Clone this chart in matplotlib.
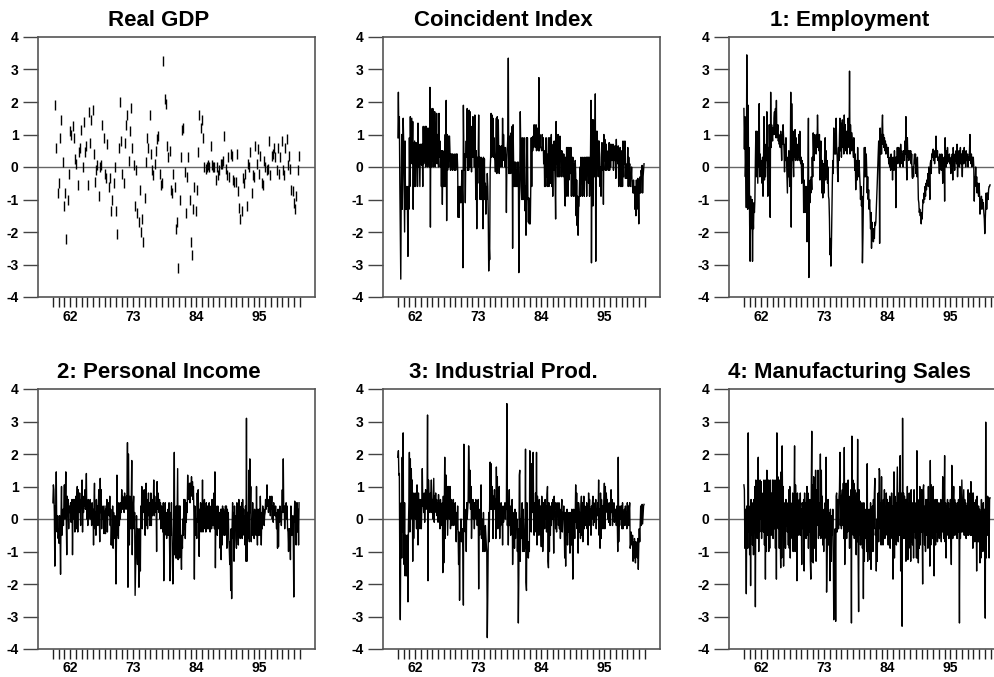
import numpy as np
import matplotlib
matplotlib.use('Agg')
import matplotlib.pyplot as plt

plt.rcParams['font.family'] = ['Liberation Sans', 'DejaVu Sans']
plt.rcParams['font.weight'] = 'bold'

# monthly series start in Jan 1959
start_year = 1959

# quarterly real GDP (standardised growth)
gdp_first, gdp_last = 1959.4, 2001.9
gdp = [1.9, 0.6, -0.8, -0.5, 0.9, 1.45, 0.15, -1.2, -0.8, -2.2,
       -1.0, -0.2, 1.1, 1.0, 1.25, 0.9, 0.25, 0.1, -0.55, 0.45,
       0.6, 1.15, 0.0, 1.4, 0.45, 0.65, -0.55, 1.7, 0.75, 1.45,
       1.75, 0.4, -0.45, -0.1, 0.05, -0.9, 0.0, 0.05, 1.3, 0.9,
       -0.2, -0.35, 0.7, -0.6, -0.35, -1.35, -1.0, -0.5, 0.0, -1.35,
       -2.05, 0.6, 2.0, 0.8, -0.2, -0.5, 0.75, 1.3, 1.6, 0.2,
       1.1, 1.8, 0.6, 0.05, -1.2, -0.1, -1.4, -1.7, -0.7, -2.0,
       -1.6, -2.3, -0.95, 0.15, 0.9, 0.6, 1.6, 0.4, -0.1, -0.25,
       0.1, 0.5, 0.85, 0.95, -0.2, -0.55, -0.5, 3.25, 2.1, 1.95,
       0.65, 0.3, 0.5, -0.7, -0.8, -0.2, -0.6, -1.9, -1.7, -3.1,
       -1.0, 0.3, 1.15, 1.2, -0.15, -1.4, -0.3, 0.3, -1.0, -2.3,
       -2.7, -1.3, -0.6, -1.35, -0.7, 0.45, 1.6, 1.2, 1.45, 0.9,
       0.0, -0.05, 0.0, 0.05, 0.0, 0.65, 0.05, 0.0, 0.0, -0.4,
       0.0, -0.25, -0.1, 0.1, 0.1, 0.2, 0.95, -0.05, -0.25, 0.3,
       -0.3, 0.4, 0.35, -0.4, -0.45, -0.45, 0.4, -0.75, -1.25, -1.6,
       -1.35, -0.35, -0.5, -0.2, -1.2, 0.1, 0.0, 0.45, -0.8, -0.25,
       -0.3, 0.65, 0.1, 0.55, -0.2, 0.35, -0.5, -0.55, 0.2, 0.0,
       -0.1, -0.05, 0.8, -0.25, 0.35, 0.4, 0.6, 0.3, -0.1, 0.6,
       -0.2, 0.3, 0.8, -0.1, -0.25, 0.6, 0.85, 0.05, 0.35, -0.05,
       -0.7, -0.75, -1.1, -1.3, -0.9, -0.1, 0.35]

# monthly series, one row per year
coincident = [
    [0.9, 2.3, 0.9, 1.55, -0.5, -2.0, -3.45, -0.6, 1.0, -1.3, 0.2, 1.5],
    [0.8, -0.6, -2.0, 0.8, -1.3, -0.6, -1.3, -0.6, -1.3, -2.75, -0.6, -1.3],
    [0.9, -0.6, 1.55, 0.1, 0.8, 1.5, 0.1, 1.4, -1.3, 0.75, -0.6, 0.8],
    [0.1, -0.6, 0.75, 0.0, 0.7, -0.6, 1.35, 0.0, 0.7, 0.1, -0.6, 0.7],
    [0.1, 0.7, 0.05, 0.7, -0.6, 1.25, 0.1, 1.2, 0.2, 1.25, 0.0, 1.25],
    [0.1, 1.2, 0.0, 0.8, 0.1, 1.2, 0.0, 2.45, -1.85, 1.8, 0.0, 1.1],
    [0.2, 1.8, 0.0, 1.15, 0.3, 1.7, 0.0, 1.15, 0.6, 1.65, 0.1, 1.0],
    [0.5, 0.0, 1.65, 0.3, 0.8, 0.0, 0.5, -0.6, 0.5, -1.15, 0.5, -0.6],
    [0.2, -0.6, 0.0, 1.0, -0.6, 2.05, -1.65, 1.0, -0.1, 0.95, 0.0, 0.95],
    [0.95, 0.4, -0.1, 0.4, 0.0, 0.4, -0.1, 0.4, 0.0, 0.35, -0.1, 0.4],
    [0.35, -0.1, 0.4, 0.0, 0.4, 0.0, -1.55, -0.6, -1.55, -0.6, -1.1, -0.6],
    [-1.1, -0.6, -0.1, -0.9, -3.1, 1.9, 0.4, -0.1, 0.4, -1.1, 0.4, 0.8],
    [0.3, 1.8, -0.1, 1.3, -0.1, 1.75, 0.0, 1.7, 0.0, 1.25, -0.15, 0.9],
    [0.3, 1.55, 0.3, 1.0, 0.0, 1.6, 0.3, -1.0, 0.5, -1.9, 0.3, -0.5],
    [0.3, 1.6, 0.0, 0.3, -1.0, 0.25, 0.3, -1.0, 0.25, -0.5, -1.9, 0.3],
    [-0.55, 0.25, -1.0, -0.5, -1.45, -0.6, -1.0, -0.2, -0.6, -1.45, -3.2, -2.4],
    [-2.85, -0.1, 0.3, 1.65, 0.3, 1.6, 0.35, 1.5, 0.3, 0.9, 0.3, 0.2],
    [-0.15, 0.5, 1.5, -0.2, 1.55, 0.6, 1.45, 0.4, -0.2, 0.65, 0.0, 0.6],
    [0.6, 0.65, 0.0, 1.5, 0.2, 1.0, 0.4, 0.6, 0.0, 0.6, 0.2, -1.4],
    [0.2, 0.6, 0.95, 3.35, -0.2, 0.95, -0.2, 0.9, -0.2, 1.05, 0.4, 1.25],
    [-2.5, 1.3, 0.2, -0.6, 0.15, -0.6, 0.15, -0.6, -0.1, -0.6, 0.15, -0.6],
    [0.15, -3.25, -1.35, -0.3, 1.7, 0.4, -0.6, -1.0, 0.9, -1.0, 0.3, -1.0],
    [0.9, 0.05, -1.35, -0.6, -2.1, 0.9, -1.0, 0.9, -1.0, -1.7, -0.95, -1.75],
    [-1.0, -1.75, -0.6, 0.9, -0.6, 0.9, 0.5, 0.95, 0.6, 1.3, 0.8, 0.9],
    [0.6, 1.3, 0.5, 1.0, 0.75, 1.2, 0.5, 2.75, 0.5, 1.0, 0.6, 0.6],
    [0.6, 0.5, 1.0, 0.6, 0.9, 0.1, 0.5, -0.6, 0.4, -0.6, 0.9, -0.3],
    [0.4, -0.6, 0.1, 0.9, -0.6, 0.0, 0.9, -0.5, 0.1, 1.0, -0.6, 0.4],
    [-0.9, 0.7, -0.1, 0.8, 0.2, -0.5, -1.6, 1.4, 0.1, 0.7, -0.3, 1.0],
    [-0.3, 0.9, -0.3, 0.95, 0.2, 0.5, -0.3, 0.5, 0.2, 0.4, -0.3, 0.4],
    [0.1, -0.9, -1.2, 0.3, -0.9, 0.6, -0.2, 0.6, -0.9, 0.6, -0.4, 0.3],
    [0.6, -0.2, 0.6, -0.9, 0.3, -0.2, 0.3, -0.9, 0.1, -0.4, -0.9, 0.2],
    [-0.2, -1.5, -0.4, -1.8, -0.9, -2.1, -1.2, -1.2, -0.5, 0.0, -0.9, 0.3],
    [-0.3, 0.0, -0.9, 0.3, -0.6, 0.0, -0.9, 0.3, 0.0, -0.4, 0.3, -0.9],
    [0.3, -0.2, 0.3, -0.5, 0.3, -0.9, 0.0, 0.4, 2.05, -2.95, 0.3, 1.45],
    [-1.2, 1.45, -0.3, 0.6, -0.3, 2.25, -2.9, 1.1, -0.3, 1.1, 0.3, 0.8],
    [-0.3, 0.8, 0.4, -0.6, 0.0, -0.9, 0.3, 0.75, -0.1, 0.7, -1.15, 1.0],
    [0.2, 0.85, -0.1, 0.2, 0.7, -0.1, 0.45, 0.2, 0.5, -0.1, 0.75, -0.1],
    [0.7, 0.0, 0.7, 0.2, 0.65, 0.2, 0.7, -0.1, 0.5, 0.2, 0.65, 0.3],
    [-0.35, 0.85, 0.2, 0.6, 0.1, 0.65, -0.6, 0.4, 0.0, 0.6, -0.6, 0.5],
    [-0.6, 0.3, -0.6, 0.8, -0.3, 0.75, 0.1, 0.8, -0.35, 0.1, -0.2, -0.35],
    [0.0, 0.6, -0.6, 0.3, -0.35, 0.1, -0.6, -0.2, -0.35, 0.0, -0.6, -0.6],
    [-0.8, -0.4, -0.8, -0.6, -1.3, -0.6, -1.5, -0.4, -1.3, -0.8, -0.35, -0.8],
    [-1.75, -0.4, -0.8, -0.3, -0.8, -0.1, -0.35, 0.05, -0.8, -0.3, -0.1, 0.1],
]

employment = [
    [1.8, 0.55, 1.55, -0.3, 0.3, -1.25, 3.45, 0.4, -1.3, 1.9, -1.0, 0.6],
    [-1.75, -2.9, -0.9, -1.9, -1.5, -1.0, -2.9, -1.4, -1.9, -1.1, -1.4, -1.0],
    [0.2, 1.1, -0.3, 1.1, 0.3, -0.5, 1.1, 0.0, 1.95, -0.3, 0.4, 0.0],
    [-0.3, 0.2, -0.5, 0.3, -0.9, 0.1, 1.55, -0.4, 0.7, -0.3, 0.4, 0.2],
    [1.7, 0.3, -0.9, 0.6, 0.0, 1.3, 0.5, -1.55, 2.3, 0.6, 1.3, 1.0],
    [0.8, 1.2, 1.0, 1.5, 1.7, 1.0, 1.8, 0.9, 2.05, 0.9, 1.0, 1.3],
    [0.8, 1.0, 0.7, 0.9, 0.6, 1.1, 0.7, 0.2, 1.0, 0.7, 1.3, 0.9],
    [0.5, -0.15, 0.7, 0.2, 0.9, 0.3, -0.3, -0.8, 0.3, -0.3, 0.5, 0.0],
    [-0.6, 0.1, 2.3, -1.85, 1.95, 0.2, 1.1, 0.2, -0.3, 1.1, 0.3, 1.15],
    [0.2, 0.9, 0.3, 0.6, 0.2, 0.7, 0.3, 1.0, 0.2, 1.1, 0.2, 0.1],
    [0.3, -0.5, 0.2, -0.3, 0.1, -1.4, -0.4, -0.7, -1.4, -0.6, -1.2, -0.6],
    [-2.3, -1.2, -0.3, 1.5, -3.4, -0.5, -1.1, -0.4, -0.8, -0.3, -0.7, 0.3],
    [-0.3, 1.05, 0.5, 0.2, 1.0, 0.6, 0.9, 0.4, 1.0, 0.6, 1.6, 0.9],
    [0.9, 0.5, 1.0, -0.4, 0.4, 0.8, 0.2, -0.8, 0.2, -0.95, 0.1, -0.3],
    [-0.8, 0.4, 0.9, -0.4, 0.5, -0.3, 0.2, -0.5, 0.0, -0.9, -1.0, -1.6],
    [-2.7, -2.2, -3.05, -2.5, -1.4, -0.5, 0.2, -0.2, 1.2, 0.6, 0.4, 1.0],
    [0.4, 1.5, 0.6, 0.35, -0.2, -0.45, 0.6, 0.2, 1.0, 1.5, 0.5, 1.35],
    [0.3, 0.8, 1.45, 0.6, 1.2, 0.4, 1.6, 0.7, 1.3, 0.5, 0.9, 1.1],
    [0.4, 1.0, 1.5, 1.3, 0.6, 2.95, 0.4, 1.3, 0.9, 0.5, 1.05, 0.8],
    [0.6, 0.3, 0.9, 0.5, -0.1, 0.4, -0.7, 0.2, 0.0, -0.4, 0.6, 0.0],
    [-0.3, 0.2, -0.2, -0.5, -1.0, -0.6, -1.2, -0.9, -2.95, -2.2, -1.0, -0.3],
    [0.6, -0.3, 0.6, -0.3, 0.4, -0.1, -0.8, -0.3, -1.0, -0.7, -1.3, -1.0],
    [-1.4, -1.9, -1.4, -2.5, -1.7, -2.2, -1.9, -2.3, -1.9, -2.2, -1.7, -1.8],
    [-1.7, -1.3, -0.9, -0.5, 0.0, 0.4, 0.8, 0.5, -2.35, 1.2, 0.4, 1.0],
    [0.4, 1.2, 1.6, 0.7, 1.0, 0.6, 0.9, 0.5, 0.8, 0.4, 0.7, 0.6],
    [0.5, 0.3, 0.6, 0.1, 0.2, 0.0, 0.3, -0.1, 0.4, 0.1, 0.2, -0.4],
    [0.3, 0.2, -0.1, 0.5, 0.0, 0.3, -1.25, 0.3, 0.2, 0.6, 0.1, 0.4],
    [0.6, 0.2, 0.5, 0.0, 0.7, 0.2, 0.5, 0.1, 0.4, 0.0, 0.5, 0.3],
    [0.2, 0.8, 0.4, 1.55, 0.1, -0.4, 0.9, 0.3, 0.5, 0.2, 0.4, 0.5],
    [0.3, 0.5, 0.1, 0.4, -0.3, -0.35, 0.0, -0.3, 0.2, 0.4, 0.1, 0.4],
    [-0.2, 0.2, -0.3, 0.3, -0.2, -1.0, -1.1, -1.4, -1.3, -1.5, -1.4, -1.75],
    [-1.4, -1.6, -1.2, -1.0, -1.1, -0.8, -1.0, -0.6, -0.9, -0.5, -0.7, -0.4],
    [-0.5, -0.2, -0.6, 0.0, -0.3, -1.0, 0.1, 0.2, -0.2, 0.4, 0.3, 0.5],
    [0.55, 0.2, 0.5, 0.1, 0.4, 0.3, 0.95, 0.4, 0.3, 0.5, 0.2, 0.3],
    [0.1, -0.2, 0.4, 0.2, 0.3, -0.1, 0.4, 0.3, -0.5, 0.2, 0.0, 0.3],
    [-1.05, 0.9, 0.3, 0.0, 0.5, 0.1, 0.6, 0.2, 0.3, 0.15, 0.4, 0.1],
    [0.2, -0.2, 0.3, 0.1, 0.4, -0.4, 0.6, 0.2, 0.3, -0.1, 0.4, 0.2],
    [0.5, 0.1, 0.7, -0.3, 0.3, 0.2, 0.5, 0.0, 0.3, 0.6, 0.1, 0.4],
    [0.2, -0.3, 0.5, 0.3, 0.1, 0.6, 0.2, 0.4, 0.0, 0.5, 0.2, 0.3],
    [0.4, 0.0, 0.3, 0.2, 0.5, 1.0, 0.3, 0.1, 0.4, 0.0, 0.3, 0.2],
    [0.3, 0.0, -1.05, -0.3, -0.5, 0.0, -0.6, -0.3, -0.8, -0.5, -0.6, -0.9],
    [-0.5, -0.8, -1.45, -1.0, -1.2, -0.9, -1.3, -1.0, -1.2, -1.1, -1.4, -1.6],
    [-2.05, -1.6, -1.2, -0.8, -1.3, -0.9, -0.8, -1.0, -0.7, -0.6, -0.6, -0.55],
]

personal_income = [
    [0.5, 1.05, 0.9, 0.2, -1.45, 0.4, 0.0, 1.45, -0.3, -0.4, 0.1, -0.6],
    [-0.3, -0.75, 0.1, -0.5, -1.7, 0.1, 1.0, -0.5, 0.0, 0.3, -0.2, 0.5],
    [1.05, 0.0, 0.6, 1.45, -0.1, -1.1, 0.7, 0.3, 0.6, -0.3, 0.4, 0.2],
    [0.3, 0.5, -0.1, 0.4, 0.6, -1.1, 0.2, 0.6, 0.0, 0.6, -0.4, 0.4],
    [0.7, -0.3, 0.6, 1.0, -0.4, 0.9, 0.3, 0.2, 0.8, 0.4, -0.2, 0.6],
    [0.4, 1.2, -0.4, 0.6, 0.2, 0.7, 0.4, 0.9, 0.3, 0.6, 1.4, 0.0],
    [0.3, -0.2, 0.6, 0.0, 0.4, 0.2, 0.6, 0.0, 0.3, -0.2, 0.5, 0.1],
    [0.3, -0.8, 0.4, 1.1, -0.3, 0.2, -0.5, 0.6, 0.1, 0.4, -0.2, 0.3],
    [0.9, 0.2, -0.7, 1.25, 0.2, 0.9, -0.3, 0.3, 0.0, 0.4, 0.2, -0.45],
    [0.0, 0.4, -0.45, 0.3, 0.1, 0.6, -0.4, 0.3, 0.2, 0.5, 0.1, 0.7],
    [-0.2, 0.3, -0.8, -0.3, -0.8, 0.4, -0.9, 0.2, -0.6, -0.3, 0.1, -0.6],
    [-2.0, -0.6, 1.35, -0.5, 0.2, -0.6, 0.5, -0.2, 0.3, 0.0, 0.5, 0.2],
    [0.9, 0.3, 0.7, 0.4, 0.5, 0.2, 0.8, 0.4, 0.6, 0.3, 0.7, 0.4],
    [2.35, -2.1, 2.0, 0.4, -0.8, 0.7, 0.3, -0.3, 0.6, 1.8, -1.1, 0.4],
    [0.4, 0.7, -0.3, 0.2, -2.35, -1.5, -0.5, 0.1, -0.9, -1.4, -0.3, -1.1],
    [-2.1, -1.6, -0.3, -1.6, 0.4, -0.2, 1.0, -0.3, 0.8, 0.2, 0.6, 0.9],
    [0.6, -0.5, 0.5, 1.1, -0.2, 0.6, -0.3, 0.3, 0.8, 0.1, 0.5, -0.2],
    [0.2, 0.8, -0.2, 0.5, 0.1, 0.6, 0.3, 1.2, 0.1, 0.7, 0.2, 0.5],
    [0.4, -1.0, 1.15, 0.3, 0.8, 0.5, 0.2, 0.6, 0.0, 0.5, -0.3, 0.4],
    [-0.1, 0.3, -0.4, 0.5, -1.9, 0.2, -0.5, 0.5, -0.3, 0.2, -0.6, 0.1],
    [-0.5, 0.3, -0.5, 0.5, -0.6, -1.9, 0.2, -0.5, 0.5, -0.3, -1.3, -2.0],
    [-1.3, 0.2, 2.05, -1.1, 0.3, -1.2, 0.4, -1.2, 0.3, 1.55, -1.25, -0.4],
    [0.4, -1.2, 0.4, -0.5, -0.9, -1.55, -0.5, -0.9, 0.0, -0.5, 0.6, -0.3],
    [0.6, -0.6, 0.3, -0.1, 0.5, 0.2, 1.35, 0.6, 1.0, 0.7, 1.1, 0.5],
    [1.1, 0.8, 1.3, 0.7, 1.15, 0.6, 1.0, 0.2, -1.85, 0.4, 0.2, -0.5],
    [0.0, -0.6, 0.8, -0.1, 0.9, -0.3, -1.15, 0.3, -0.3, 0.5, -0.4, 0.2],
    [-0.3, 1.2, -0.4, 0.5, -0.3, 0.6, -0.2, 0.3, -0.4, 0.5, -0.2, 0.4],
    [-0.3, 0.3, -0.3, 0.5, -0.2, -0.4, 0.2, 0.4, -0.3, 0.6, -0.2, 0.3],
    [-0.2, 0.8, -0.3, 1.45, -1.5, 0.4, -0.2, 0.3, -0.5, 0.4, 0.0, -0.3],
    [-0.2, 0.2, -0.9, 0.3, -1.25, 0.3, -0.8, 0.4, -0.3, 0.3, -0.5, 0.2],
    [-0.5, 0.4, -0.4, 0.4, -0.9, 0.3, -0.4, 0.2, -0.6, -0.9, -1.4, -0.7],
    [-2.2, -0.3, -2.45, -0.2, 0.5, -0.6, 0.2, -1.3, 0.4, -0.2, 0.1, -0.6],
    [-0.9, 0.5, -0.4, 0.2, -0.8, 0.6, -0.3, 0.4, -0.6, 0.1, -0.2, 0.5],
    [-0.6, 0.6, -0.2, 0.3, -0.5, 0.1, -0.8, 0.4, -1.3, 3.1, -1.3, 0.2],
    [0.2, -0.6, 1.5, -0.7, 1.85, 0.2, 1.0, -0.7, 0.0, -0.5, 0.5, -0.4],
    [0.2, -0.6, 0.3, -0.3, 0.1, -0.5, 1.0, -0.3, -0.8, 0.3, -0.5, 0.1],
    [0.3, -0.5, 0.7, 0.0, -0.8, 0.2, -0.3, 0.4, 0.0, 0.3, -0.2, 0.1],
    [0.2, 0.6, 0.3, 0.5, 1.05, 0.4, 0.6, 0.2, 0.5, 0.3, 0.7, 0.1],
    [0.6, 0.3, 0.7, 0.0, 0.4, -0.1, 0.5, 0.2, 0.3, 0.1, 0.4, 0.0],
    [-0.3, 0.2, -0.9, 0.3, -0.85, 0.2, -0.1, 0.4, 0.0, 0.2, -0.2, 0.3],
    [0.9, 0.2, 1.85, 0.3, 0.4, -0.3, 0.2, 0.1, 0.5, 0.0, 0.4, -0.3],
    [-0.4, -1.0, -0.3, -0.5, -0.3, -1.25, 0.4, -0.2, -0.5, -0.3, 0.1, -0.6],
    [-2.4, 0.0, 0.55, -0.1, 0.5, -0.8, 0.2, 0.5, -0.4, 0.3, -0.8, 0.5],
]

industrial_prod = [
    [1.9, 2.1, 1.35, 1.4, -1.65, -3.1, -0.5, 0.5, -1.2, 1.9, -0.4, 2.65],
    [-1.25, -1.4, 0.5, -1.75, -0.5, -0.9, -1.75, -0.5, -0.5, -2.55, -0.2, 0.5],
    [2.05, -0.4, 1.85, 0.0, 1.55, 0.3, 1.2, -1.3, 0.8, -0.6, 0.4, 0.2],
    [0.8, 0.0, 0.4, -0.3, 1.05, 0.4, -0.8, 0.8, 0.0, 0.6, -0.3, 0.5],
    [0.6, -0.3, 0.4, 1.55, 0.4, 0.6, 0.2, 0.8, -0.1, 0.5, 0.9, 0.3],
    [0.4, 0.6, 3.2, -1.9, 1.2, 0.6, 0.7, 0.2, 0.8, 0.6, 1.2, 0.2],
    [0.6, 0.0, 0.7, 1.25, -0.1, 0.7, 0.4, 0.8, 0.2, 0.6, 0.1, 0.5],
    [-0.1, 0.75, 0.0, 0.5, -0.3, 0.6, 0.0, 0.4, -0.2, 0.5, -1.65, 0.7],
    [-1.35, 0.3, 1.9, -0.6, 0.7, 1.35, 0.0, 1.0, -0.5, 0.3, 1.0, 0.2],
    [0.0, 1.0, -0.3, 0.3, 0.6, -0.2, 0.5, 0.1, 0.6, -0.2, 0.4, 0.0],
    [0.5, -0.2, -0.7, 0.2, -0.3, 0.4, -0.6, -1.4, -0.4, -2.5, -0.6, -0.5],
    [0.0, -0.7, -0.6, -0.3, -0.9, -2.65, 2.3, -0.1, 0.3, -0.4, 0.2, -1.0],
    [0.5, 0.0, 0.3, 0.6, 2.25, 1.5, 0.5, 1.5, 0.3, 1.0, -0.6, 0.2],
    [0.5, 0.6, 0.0, 0.5, -0.3, 0.5, 0.2, 0.6, 0.0, 0.4, -0.2, 0.3],
    [0.6, -2.15, 0.3, -0.5, 0.2, -0.3, 1.05, -0.6, 0.0, -0.4, -1.0, 0.2],
    [-0.5, -0.3, -1.0, -0.2, -0.5, -0.8, -1.0, -3.65, -2.35, -0.7, 0.2, -0.7],
    [0.6, 1.75, 0.3, 1.7, 0.3, 1.0, 0.6, -0.6, 0.7, 0.4, 0.9, 0.3],
    [0.6, -0.6, 1.6, 0.3, 1.3, -0.3, 0.8, 0.3, 1.0, -0.6, 0.3, -0.2],
    [0.5, 0.0, 0.3, -0.8, 0.4, -0.1, 0.3, 0.2, 0.5, 0.0, 0.4, 0.3],
    [3.55, -0.2, 0.4, -0.8, 0.3, 0.9, -0.2, 0.4, -0.5, 0.0, 0.2, 0.6],
    [-1.4, -0.5, 0.0, 0.2, -0.9, 0.3, -0.6, 0.2, -0.3, 0.0, -1.0, -0.3],
    [-3.2, -1.7, 1.35, 1.5, -1.3, 0.0, -0.6, 0.2, 0.5, -1.0, 0.3, -0.2],
    [-1.0, -0.9, -0.5, 2.15, -1.95, -2.2, 0.5, -1.0, -0.9, -1.2, -0.7, -1.0],
    [2.1, 0.5, 1.0, -0.4, 1.7, 0.7, 0.2, 2.05, 0.0, -0.5, 0.5, -0.3],
    [0.8, -0.4, 2.05, -0.8, 0.7, 0.2, 0.5, -0.5, 0.6, 0.0, 0.4, -0.3],
    [-0.85, 0.7, 0.0, -1.0, -0.5, 0.5, 0.3, -0.3, 0.6, 0.0, 0.4, -0.4],
    [0.75, 1.0, -1.3, -1.5, 0.5, -1.0, 0.3, -0.5, 0.4, -0.2, 0.5, 0.0],
    [0.6, 0.2, -1.05, 0.7, 0.3, 0.5, -0.3, 0.2, -0.4, 0.5, 0.1, 0.3],
    [-0.2, 0.5, -0.3, 0.3, -0.6, 0.1, 0.3, 0.6, -0.4, 0.2, 0.0, 0.4],
    [-0.3, -1.2, 0.2, -1.45, 0.2, -0.5, 0.3, -0.8, 0.1, -0.4, 0.2, -0.3],
    [-1.05, 0.2, -0.3, -0.8, 0.3, -0.5, -1.85, -0.5, 0.3, -0.2, -0.6, 0.1],
    [1.05, -0.1, 0.8, -0.3, 0.5, -1.05, 0.5, 0.3, -0.4, 0.2, -0.6, 0.4],
    [0.7, -0.5, 0.5, -0.7, 0.2, 0.7, -0.3, 0.4, -0.2, 0.3, 0.0, 0.5],
    [-0.3, 0.4, -0.8, 0.8, 0.2, 0.6, -0.2, 0.3, -0.5, 0.4, 0.0, 0.5],
    [0.7, -0.2, 0.5, -0.1, 0.4, 0.2, 0.6, -0.3, 0.3, 0.1, 0.5, 0.2],
    [1.2, -0.5, 0.3, -0.9, 0.8, -0.6, 0.6, 0.0, 0.4, -0.3, 0.2, 0.5],
    [1.1, -0.3, 1.0, 0.2, 0.8, 0.4, 0.6, 0.0, 0.3, -0.1, 0.5, 0.2],
    [-0.2, 0.3, 0.9, 0.2, 0.6, -0.2, 0.4, 0.1, 0.5, -0.1, 0.3, 0.2],
    [0.3, -0.2, 0.4, 0.0, -1.0, 1.9, -0.7, 0.3, -0.2, 0.4, 0.0, 0.3],
    [0.4, -0.3, 0.5, -0.3, 0.2, -0.1, 0.3, -0.2, 0.4, 0.1, 0.2, -0.3],
    [0.5, 0.1, 0.4, -0.2, 0.3, 0.5, -0.9, -0.8, -0.4, -0.7, -0.8, -0.5],
    [-1.3, -0.7, -1.2, -0.6, -0.9, -1.35, -0.7, -1.0, -0.8, -1.2, -0.6, -1.55],
    [-0.8, -0.3, -0.7, -0.1, 0.4, -0.2, -0.15, 0.45, -0.15, 0.1, 0.4, 0.45],
]

manufacturing_sales = [
    [1.05, 0.9, -0.9, 0.3, -0.4, -2.3, 0.4, 0.0, -0.9, 2.65, -0.4, 0.3],
    [-1.1, 0.4, -2.05, 0.6, -0.5, 0.3, -0.8, 0.5, -1.1, 0.6, -0.4, 1.0],
    [-2.7, 1.2, -0.4, 1.0, -0.6, 1.5, 1.9, -1.0, 0.4, -0.4, 1.2, 0.0],
    [1.15, -0.6, 0.8, -0.3, 0.5, -0.4, 1.2, -0.8, 0.7, -1.85, 1.2, -1.0],
    [1.5, -0.5, 0.7, 1.2, -1.0, 0.9, -0.9, 1.2, 0.0, -0.5, 0.8, -0.3],
    [1.2, -0.6, 0.5, 1.2, -0.3, 0.8, -0.9, 1.2, -1.85, 2.65, 0.4, 1.3],
    [-0.3, 0.8, -0.9, 1.2, -0.5, -1.5, 1.45, -1.2, 2.25, 0.2, 1.0, -1.45],
    [0.5, -0.3, 0.4, -0.9, 0.6, -0.2, 0.5, -0.4, 0.3, -0.8, 0.9, -0.9],
    [1.0, -1.2, 0.5, -0.3, 0.4, -0.6, 0.8, -1.0, -0.2, 0.5, 2.25, -1.0],
    [1.05, 0.2, -0.3, -1.9, 0.8, -0.4, 0.3, -0.5, 0.6, -0.2, 0.8, -0.5],
    [0.3, -1.4, 0.5, 0.3, -0.3, 0.6, -1.6, 0.8, -0.2, 0.5, -0.6, 0.4],
    [1.0, -0.5, 0.8, -0.9, 0.5, -0.4, 0.6, -1.3, -1.85, 1.0, 2.7, -1.3],
    [1.05, -1.35, 1.3, -0.9, 0.6, -0.4, 1.5, -1.3, 0.9, -0.2, 0.5, 1.5],
    [-0.6, 0.5, -0.5, 0.4, 2.0, -0.6, 1.5, -0.5, 0.7, -0.8, 0.2, -1.0],
    [0.3, -0.6, 0.5, 0.2, 1.9, -2.25, -1.0, 0.0, 0.6, -0.8, 0.2, -0.5],
    [-1.9, 0.3, -0.9, -1.3, 0.1, -0.5, 0.3, -0.9, -3.1, -1.0, -1.3, -0.3],
    [-3.15, 0.7, 0.8, -0.4, 0.6, 0.5, -0.3, 0.7, 0.9, 2.05, -0.2, 0.7],
    [-0.3, 0.7, 0.9, -0.2, 1.1, -0.6, 2.2, -1.4, 0.3, 0.7, 1.1, -0.6],
    [0.8, -0.4, 1.2, -0.3, 0.6, -0.9, 0.7, -0.5, 0.9, -3.2, 2.55, 0.8],
    [1.2, -0.5, 1.1, -0.6, 0.9, -0.3, 0.5, -1.1, 0.8, -0.7, 2.45, -1.1],
    [-2.85, 0.9, -0.5, 0.55, -0.8, 0.3, -0.6, 0.5, -0.9, 0.4, -2.45, 0.5],
    [-1.3, 0.3, -0.6, 0.2, 0.3, -1.0, 1.7, -1.3, -0.6, 0.2, 0.3, -1.0],
    [-1.25, 0.5, -1.55, 0.3, -0.6, 0.4, -1.0, 0.6, -0.3, 0.8, 1.25, -0.5],
    [-0.3, -1.6, 0.0, -1.3, 0.6, 0.8, -0.7, 1.55, 1.5, -0.3, 0.5, -0.8],
    [1.3, -0.7, 0.5, -0.8, 0.6, -0.2, 0.9, -0.6, 0.3, -0.5, 0.8, -0.4],
    [0.6, -0.2, -0.8, 0.5, -0.3, 0.7, -0.9, 0.6, -0.5, 0.8, -0.6, 0.4],
    [-1.85, 0.6, 1.45, -1.2, 0.7, -0.2, 0.5, -0.8, 0.3, 1.6, 0.3, -0.7],
    [0.8, -0.5, 0.7, 1.95, -1.6, 0.8, -0.5, -3.3, 3.1, -0.6, 0.8, -0.5],
    [0.7, -0.6, 0.6, -1.3, 0.6, -0.8, 1.0, -1.25, 0.5, -0.9, 0.8, -0.5],
    [0.6, -1.3, 0.9, -0.7, 0.5, -0.8, 0.4, -1.2, 0.9, -0.4, 0.5, -0.6],
    [0.4, -1.2, 2.1, -1.2, 0.6, -1.35, 0.3, -0.9, 1.0, -0.8, 0.6, -0.4],
    [0.9, -0.3, -2.0, 0.9, 1.05, 0.0, -0.8, 0.4, -1.0, 0.6, -0.5, 0.3],
    [0.6, -0.9, 1.0, -0.7, 0.5, -1.45, 1.8, -0.8, 1.05, -0.5, 0.4, -0.6],
    [1.0, -0.8, -1.75, 0.4, 0.6, -0.8, 0.5, -0.4, 0.6, -0.7, 0.3, -0.5],
    [0.5, -0.6, 0.4, -0.5, 0.6, -0.7, 0.3, -0.4, 1.3, 0.4, -0.6, 0.5],
    [1.95, -0.7, 0.5, -1.2, 0.4, -0.5, 0.6, -0.4, 0.5, -0.6, 0.3, -0.5],
    [0.6, -0.5, -1.4, 1.65, 0.5, -0.6, 0.4, 1.0, -0.5, 0.6, -0.3, 0.5],
    [-0.5, 0.4, -0.6, 0.5, -0.4, 0.6, 0.0, -3.2, 1.0, -0.6, 0.5, -0.4],
    [1.2, 0.4, -0.4, 0.3, 0.9, -0.5, 0.6, -0.3, 0.5, -0.6, 0.4, -0.5],
    [0.3, 0.9, -0.5, 0.6, -0.4, 0.8, -0.5, 1.15, -0.5, 0.8, 0.5, -0.9],
    [0.8, -0.6, 0.5, -0.7, 0.4, -0.3, 0.6, -1.6, 0.7, 0.0, -0.7, 0.4],
    [-0.7, 0.3, -1.35, 0.2, -1.2, 0.6, -0.9, 0.4, -1.0, 0.5, -0.8, 0.3],
    [-1.2, -3.05, 2.98, -1.2, 0.6, -0.5, 0.7, -0.4, 0.65, -1.2, 0.6, 0.65],
]

titles = ['Real GDP', 'Coincident Index', '1: Employment',
          '2: Personal Income', '3: Industrial Prod.', '4: Manufacturing Sales']
monthly = [coincident, employment, personal_income, industrial_prod, manufacturing_sales]
tick_years = np.arange(1959, 2003)
label_years = [1962, 1973, 1984, 1995]
y_ticks = np.arange(-4, 5)

W, H = 995, 677
fig = plt.figure(figsize=(W / 100, H / 100), dpi=100)

lefts = [38, 383, 729]
tops = [37, 389]
aw, ah = 277, 260

for i, title in enumerate(titles):
    r, c = divmod(i, 3)
    ax = fig.add_axes([lefts[c] / W, 1 - (tops[r] + ah) / H, aw / W, ah / H])
    ax.axhline(0, color='#666666', lw=1.0, zorder=1)
    if i == 0:
        x = np.linspace(gdp_first, gdp_last, len(gdp))
        ax.plot(x, gdp, ls='none', marker='|', ms=7, mew=1.0, color='black', zorder=2)
    else:
        vals = np.concatenate([np.asarray(row, float) for row in monthly[i - 1]])
        x = start_year + np.arange(len(vals)) / 12
        ax.plot(x, vals, color='black', lw=1.0, zorder=2)

    ax.set_xlim(1956.4, 2004.7)
    ax.set_ylim(-4, 4)
    ax.set_yticks(y_ticks)
    ax.set_yticklabels([str(v) for v in y_ticks])
    ax.set_xticks(tick_years)
    ax.set_xticklabels([str(y)[2:] if y in label_years else '' for y in tick_years])
    ax.tick_params(axis='x', direction='out', length=7, width=1, pad=2,
                   labelsize=10, color='#222222')
    ax.tick_params(axis='y', direction='out', length=11, width=1, pad=3,
                   labelsize=10, color='#444444')
    for s in ax.spines.values():
        s.set_color('#555555')
        s.set_linewidth(1.2)
    ax.set_title(title, fontsize=16, fontweight='bold', x=0.435, pad=8)

fig.savefig('out.png', dpi=100)
